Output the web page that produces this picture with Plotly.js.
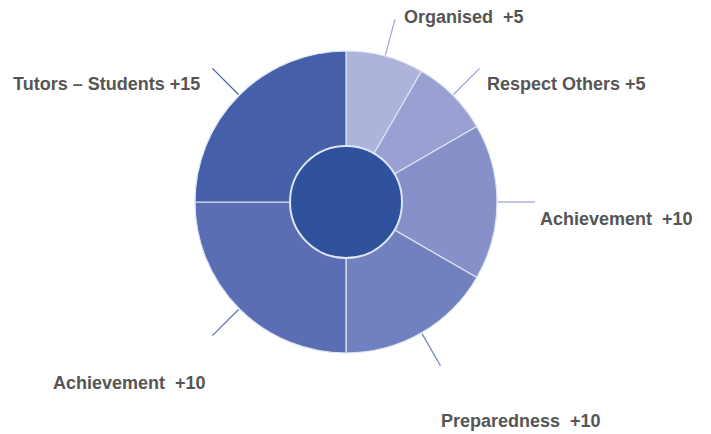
<!DOCTYPE html>
<html>
<head>
<meta charset="utf-8">
<script src="https://cdn.plot.ly/plotly-3.0.1.min.js"></script>
<style>html,body{margin:0;padding:0;background:#fff;}#chart{width:711px;height:434px;}</style>
</head>
<body>
<div id="chart"></div>
<script>
// Data
const categories = ["Organised", "Respect Others", "Achievement", "Preparedness", "Achievement", "Tutors – Students"];
const values = [5, 5, 10, 10, 15, 15];
const labelTexts = ["Organised  +5", "Respect Others +5", "Achievement  +10", "Preparedness  +10", "Achievement  +10", "Tutors – Students +15"];
const sliceColors = ["#aeb3dc", "#9aa1d2", "#8790c8", "#7180be", "#5b6eb3", "#4560a9"];

// Layout geometry (pixels)
const W = 711, H = 434;
const cx = 346, cy = 202, R = 151, Rin = 56;
const labelPos = [[402, 17], [485, 84], [538, 219], [439, 421], [51, 383], [11, 84]];

const px2x = x => x / W;
const px2y = y => 1 - y / H;

const traces = [
  {
    type: "pie",
    values: values,
    labels: categories.map((c, i) => c + " " + i),
    sort: false,
    direction: "clockwise",
    rotation: 0,
    textinfo: "none",
    hoverinfo: "none",
    showlegend: false,
    marker: {colors: sliceColors, line: {color: "#dde6f3", width: 1.2}},
    domain: {x: [px2x(cx - R), px2x(cx + R)], y: [px2y(cy + R), px2y(cy - R)]}
  },
  {
    type: "pie",
    values: [1],
    labels: ["centre"],
    textinfo: "none",
    hoverinfo: "none",
    showlegend: false,
    marker: {colors: ["#30529d"], line: {color: "#dde6f3", width: 2}},
    domain: {x: [px2x(cx - Rin), px2x(cx + Rin)], y: [px2y(cy + Rin), px2y(cy - Rin)]}
  }
];

// leader lines from the data's mid-angles
const total = values.reduce((a, b) => a + b, 0);
const shapes = [];
let cum = 0;
values.forEach((v, i) => {
  const mid = (cum + v / 2) / total * 2 * Math.PI;
  cum += v;
  const r1 = R + 1, r2 = R + 38;
  const x1 = cx + r1 * Math.sin(mid), y1 = cy - r1 * Math.cos(mid);
  const x2 = cx + r2 * Math.sin(mid), y2 = cy - r2 * Math.cos(mid);
  shapes.push({type: "line", xref: "paper", yref: "paper",
    x0: px2x(x1), y0: px2y(y1), x1: px2x(x2), y1: px2y(y2),
    line: {color: sliceColors[i] === "#aeb3dc" ? "#9fa6d6" : sliceColors[i], width: 1.2}});
});

const annotations = labelTexts.map((t, i) => ({
  text: "<b>" + t + "</b>",
  xref: "paper", yref: "paper",
  x: px2x(labelPos[i][0]), y: px2y(labelPos[i][1]),
  xanchor: "left", yanchor: "middle",
  showarrow: false,
  font: {family: "'Liberation Sans Narrow', 'Arial Narrow', 'Liberation Sans', Arial, sans-serif", size: 18, color: "#555555"}
}));

const layout = {
  width: W, height: H,
  margin: {l: 0, r: 0, t: 0, b: 0},
  paper_bgcolor: "#ffffff",
  plot_bgcolor: "#ffffff",
  showlegend: false,
  shapes: shapes,
  annotations: annotations
};

Plotly.newPlot("chart", traces, layout, {displayModeBar: false, staticPlot: true});
</script>
</body>
</html>
